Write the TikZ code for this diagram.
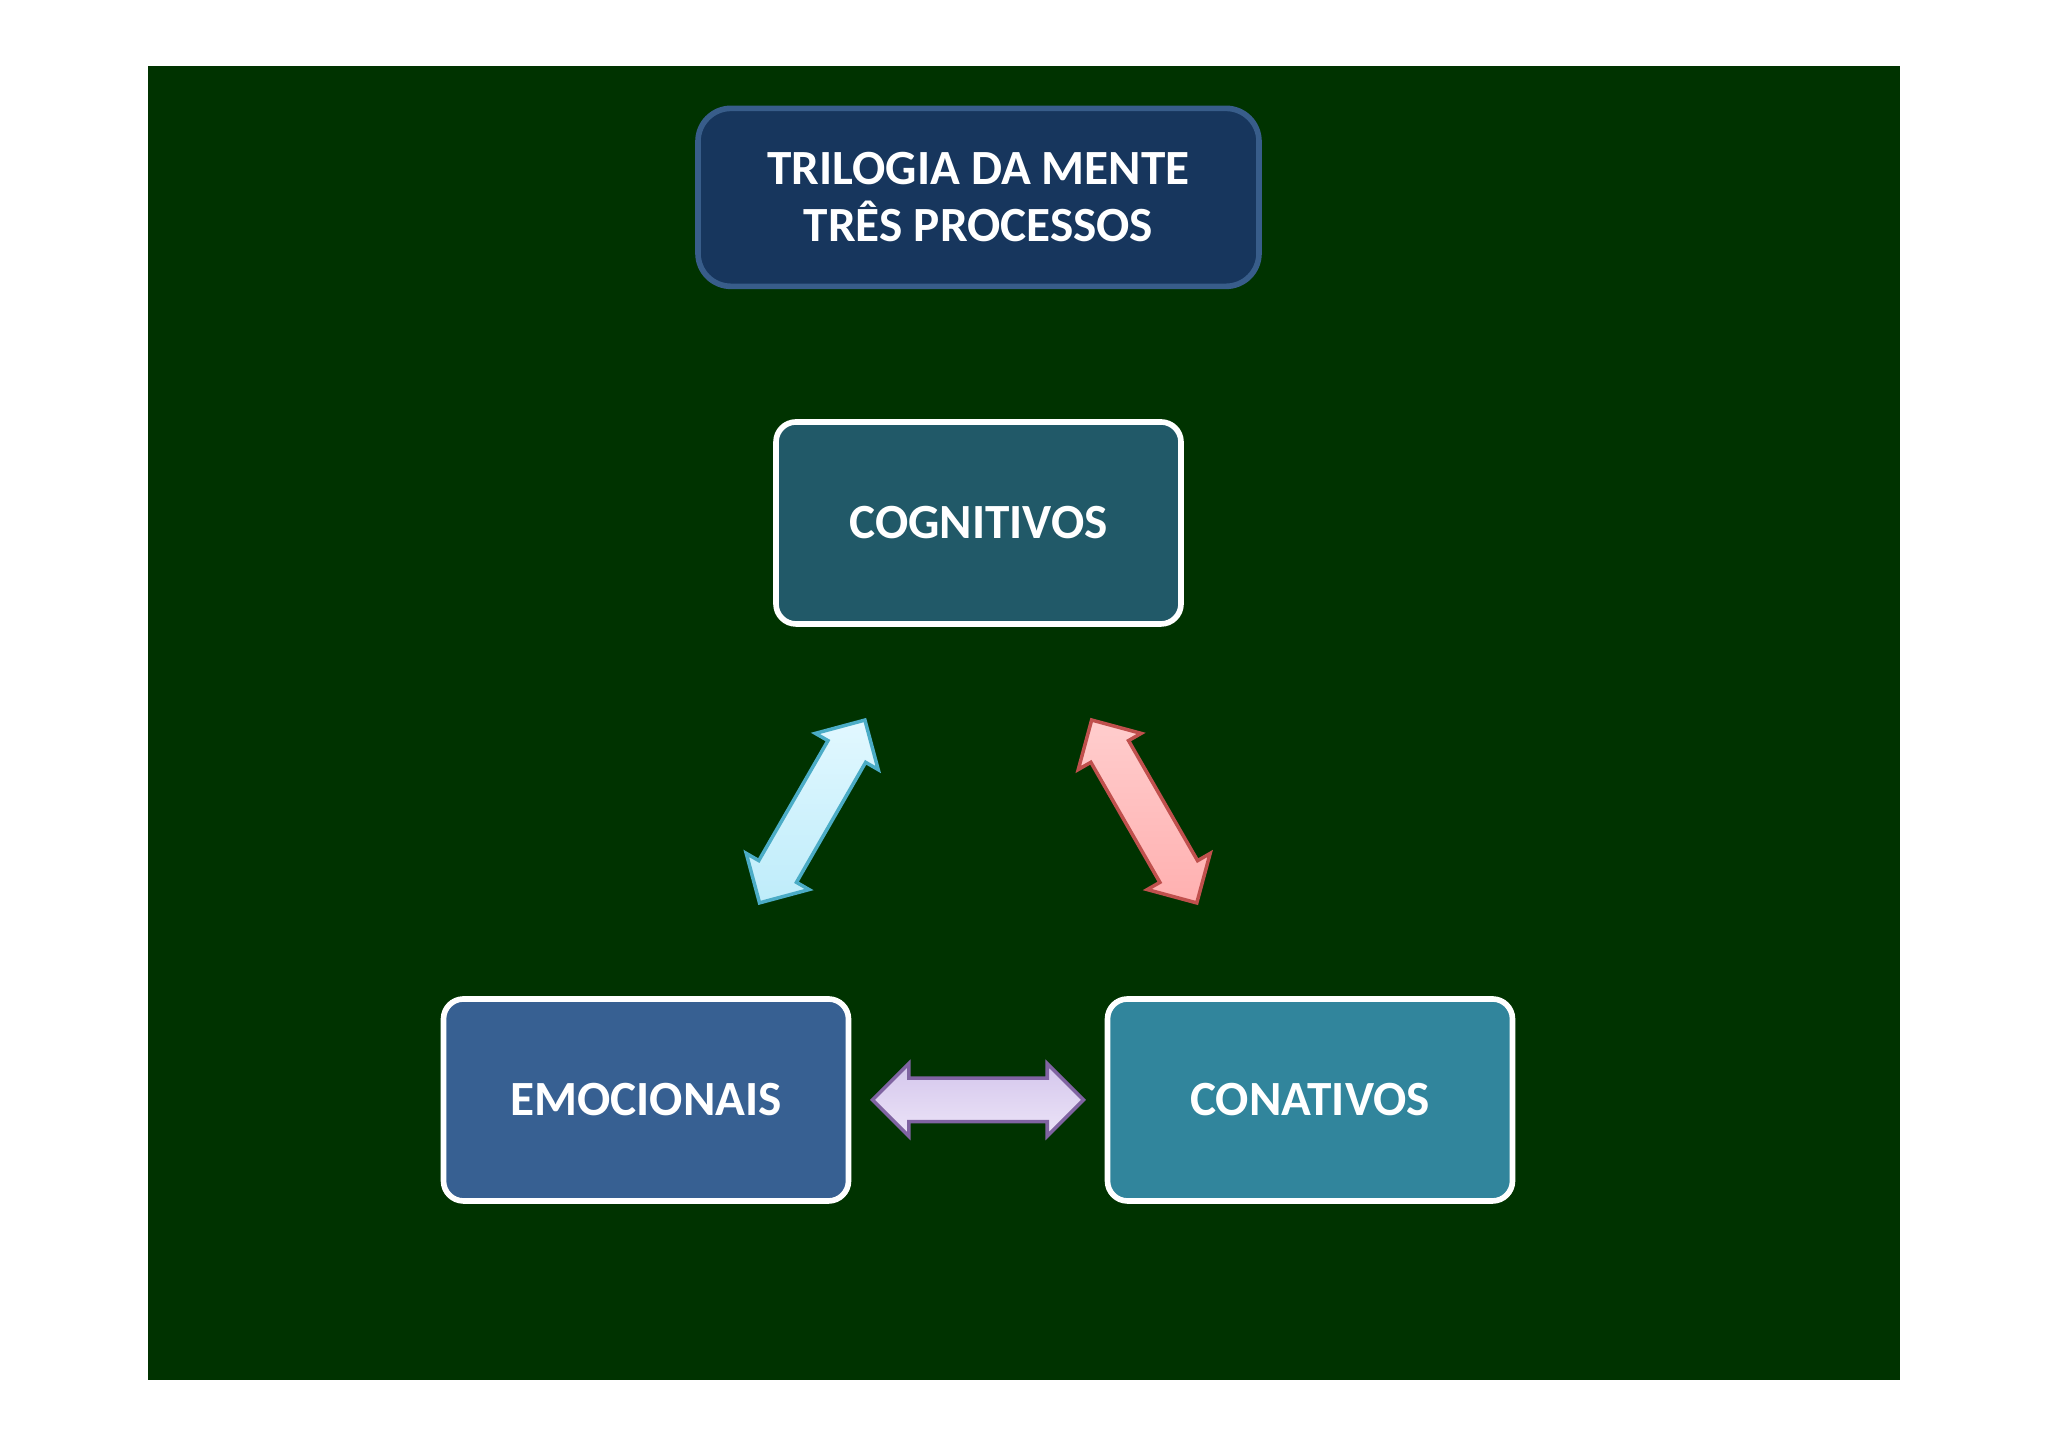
\documentclass[tikz,border=0pt]{standalone}
\usepackage{fontspec}
\setmainfont{Carlito}
\usetikzlibrary{positioning, shapes.arrows}

\definecolor{bggreen}{RGB}{0,51,0}
\definecolor{titlefill}{RGB}{23,54,93}
\definecolor{titleline}{RGB}{56,93,138}
\definecolor{cogfill}{RGB}{33,89,104}
\definecolor{emofill}{RGB}{55,96,146}
\definecolor{confill}{RGB}{49,133,156}

\begin{document}
\begin{tikzpicture}[
        procbox/.style={draw=white, line width=1.6pt, rounded corners=0.2cm,
            minimum width=4.05cm, minimum height=2.02cm, text=white,
            font=\fontsize{14}{16.3}\selectfont\bfseries},
        dblarrow/.style={double arrow, draw, line width=1pt,
            inner xsep=0pt, inner ysep=0.2cm,
            minimum height=2.11cm, double arrow head extend=0.145cm, sloped}
    ]
        \useasboundingbox (0,0) rectangle (20.48,14.47);
        \fill[bggreen] (1.48,0.67) rectangle (19.00,13.81);

        \node[procbox, fill=cogfill] (cog) at (9.785,9.24) {COGNITIVOS};
        \node[procbox, fill=titlefill, draw=titleline, rounded corners=0.33cm,
            minimum width=5.61cm, minimum height=1.78cm, align=center]
            (title) [above=1.30cm of cog] {TRILOGIA DA MENTE\\TRÊS PROCESSOS};
        \node[procbox, fill=emofill] (emo) at (6.46,3.47) {EMOCIONAIS};
        \node[procbox, fill=confill] (con) at (13.10,3.47) {CONATIVOS};

        % setas entre os processos
        \path (emo) -- (cog) node[midway, dblarrow, draw={rgb,255:red,75;green,172;blue,198},
            top color={rgb,255:red,226;green,248;blue,255},
            bottom color={rgb,255:red,190;green,236;blue,250}] {};
        \path (cog) -- (con) node[midway, dblarrow, draw={rgb,255:red,192;green,80;blue,77},
            top color={rgb,255:red,255;green,205;blue,205},
            bottom color={rgb,255:red,255;green,176;blue,176}] {};
        \path (emo) -- (con) node[midway, dblarrow, draw={rgb,255:red,128;green,100;blue,162},
            top color={rgb,255:red,212;green,198;blue,236},
            bottom color={rgb,255:red,236;green,228;blue,248}] {};

        \end{tikzpicture}
\end{document}
